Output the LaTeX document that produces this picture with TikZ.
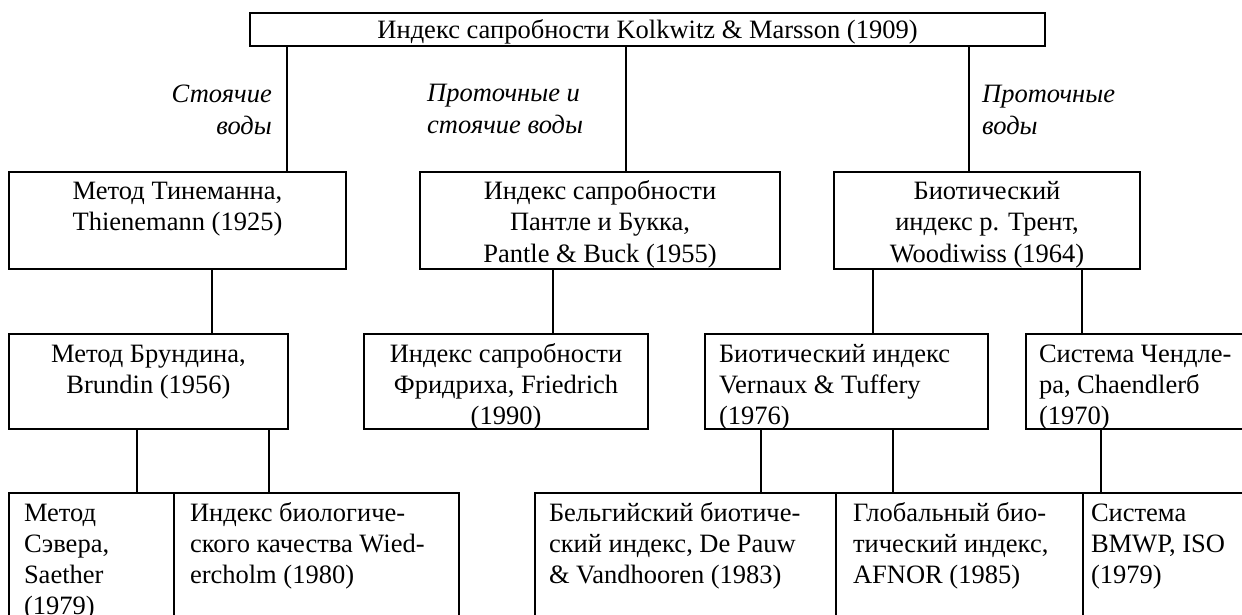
\documentclass[tikz,border=0pt]{standalone}
\usepackage{fontspec}
\setmainfont{Liberation Serif}
\newcommand\mybox[5][28]{\begin{minipage}[c][#3bp][t]{#2bp}#4\rule{0pt}{#1bp}#5\end{minipage}}
\newcommand\ctr{\centering}
\newcommand\lft[1]{\raggedright\leftskip=#1bp\relax}
\tikzset{
  bx/.style={draw, line width=2bp, inner sep=0pt, anchor=north west,
    font=\fontsize{26.5bp}{31bp}\selectfont},
  ln/.style={line width=2bp},
  lbl/.style={inner sep=0pt, font=\itshape\fontsize{26.5bp}{32bp}\selectfont},
}
\begin{document}
\begin{tikzpicture}[x=1bp, y=-1bp]
\clip (0,0) rectangle (1242,615);
% top
\node[bx] (top) at (249,12) {\mybox[26]{795}{33}{\ctr}{Индекс сапробности Kolkwitz \& Marsson (1909)}};
% level 2
\node[bx] (A) at (8,171) {\mybox{337}{97}{\ctr}{Метод Тинеманна,\\Thienemann (1925)}};
\node[bx] (B) at (419,171) {\mybox{360}{97}{\ctr}{Индекс сапробности\\Пантле и Букка,\\Pantle \& Buck (1955)}};
\node[bx] (C) at (833,171) {\mybox{306}{97}{\ctr}{Биотический\\индекс р. Трент,\\Woodiwiss (1964)}};
% level 3
\node[bx] (D) at (8,333) {\mybox{279}{95}{\ctr}{Метод Брундина,\\Brundin (1956)}};
\node[bx] (E) at (363,333) {\mybox{284}{95}{\ctr}{Индекс сапробности\\Фридриха, Friedrich\\(1990)}};
\node[bx] (F) at (704,333) {\mybox{283}{95}{\lft{14}}{Биотический индекс\\Vernaux \& Tuffery\\(1976)}};
\node[bx] (G) at (1025,333) {\mybox{235}{95}{\lft{13}}{Система Чендле-\\ра, Chaendlerб\\(1970)}};
% level 4
\node[bx] (H) at (8,492) {\mybox{165}{150}{\lft{15}}{Метод\\Сэвера,\\Saether\\(1979)}};
\node[bx] (I) at (173,492) {\mybox{285}{150}{\lft{16}}{Индекс биологиче-\\ского качества Wied-\\ercholm (1980)}};
\node[bx] (J) at (534,492) {\mybox{301}{150}{\lft{14}}{Бельгийский биотиче-\\ский индекс, De Pauw\\\& Vandhooren (1983)}};
\node[bx] (K) at (835,492) {\mybox{247}{150}{\lft{17}}{Глобальный био-\\тический индекс,\\AFNOR (1985)}};
\node[bx] (L) at (1082,492) {\mybox{178}{150}{\lft{8}}{Система\\BMWP, ISO\\(1979)}};
% connector x positions
\coordinate (x1) at (287,0);
\coordinate (x2) at (626,0);
\coordinate (x3) at (969,0);
\coordinate (x4) at (212,0);
\coordinate (x5) at (553,0);
\coordinate (x6) at (873,0);
\coordinate (x7) at (1082,0);
\coordinate (x8) at (137,0);
\coordinate (x9) at (269,0);
\coordinate (x10) at (761,0);
\coordinate (x11) at (893,0);
\coordinate (x12) at (1101,0);
\draw[ln] (top.south -| x1) -- (A.north -| x1);
\draw[ln] (top.south -| x2) -- (B.north -| x2);
\draw[ln] (top.south -| x3) -- (C.north -| x3);
\draw[ln] (A.south -| x4) -- (D.north -| x4);
\draw[ln] (B.south -| x5) -- (E.north -| x5);
\draw[ln] (C.south -| x6) -- (F.north -| x6);
\draw[ln] (C.south -| x7) -- (G.north -| x7);
\draw[ln] (D.south -| x8) -- (H.north -| x8);
\draw[ln] (D.south -| x9) -- (I.north -| x9);
\draw[ln] (F.south -| x10) -- (J.north -| x10);
\draw[ln] (F.south -| x11) -- (K.north -| x11);
\draw[ln] (G.south -| x12) -- (L.north -| x12);
% labels
\node[lbl, align=right, anchor=base east] (l1) at (272,135) {Стоячие\\воды};
\node[lbl, align=left, anchor=base west] (l2) at (427,134) {Проточные и\\стоячие воды};
\node[lbl, align=left, anchor=base west] (l3) at (982,135) {Проточные\\воды};
\end{tikzpicture}
\end{document}
